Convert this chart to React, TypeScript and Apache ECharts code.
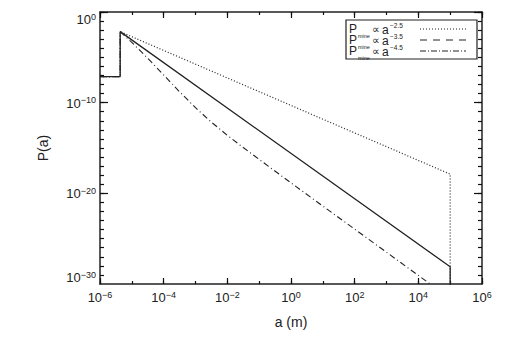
import React, { useEffect, useRef } from 'react';
import * as echarts from 'echarts';

// Size a (m) for the two straight power laws, with the step at a_min and the cut-off at a_max
const aStraight = [1e-6, 4.3e-6, 4.3e-6, 1e5, 1e5];
const pShallow = [7.4e-8, 7.4e-8, 6.8e-3, 1.3e-18, 1e-40];
const pMiddle = [7.4e-8, 7.4e-8, 6.8e-3, 7.9e-29, 1e-40];
// Size a (m) for the curved (dash-dot) law
const aCurved = [1e-6, 4.3e-6, 4.3e-6, 1e-5, 3.16e-5, 1e-4, 3.16e-4, 1e-3, 3.16e-3, 1e-2, 3.16e-2, 1e-1, 1, 1e2, 1e4, 1e5];
const pCurved = [7.4e-8, 7.4e-8, 6.8e-3, 4.47e-4, 7.9e-6, 1.12e-7, 1.58e-9, 2.8e-11, 7.1e-13, 2.5e-14, 1.12e-15, 5.6e-17, 1.41e-19, 1.12e-24, 8.9e-30, 2.5e-32];

const legendExponents = ['−2.5', '−3.5', '−4.5'];
const yMinExponent = '−30';
const xTitle = 'a (m)';
const yTitle = 'P(a)';

const FONT = 'Liberation Sans';
const INK = '#222';
const TICK = '#111';

function expText(v: number): string {
  const e = Math.round(Math.log10(v));
  return e < 0 ? '−' + String(-e) : String(e);
}

const baseRich = {
  b: { fontSize: 13, lineHeight: 14, verticalAlign: 'bottom', fontFamily: FONT, color: INK },
  s: { fontSize: 9, lineHeight: 10, verticalAlign: 'top', padding: [0, 0, 8, 0], fontFamily: FONT, color: INK },
};
const graphicRich = {
  b: { fontSize: 13, lineHeight: 14, verticalAlign: 'bottom', fontFamily: FONT, fill: INK },
  s: { fontSize: 9, lineHeight: 10, verticalAlign: 'top', padding: [0, 0, 8, 0], fontFamily: FONT, fill: INK },
};

function xAxisDef(position: 'top' | 'bottom', interval: number, tickLen: number, main: boolean, labels: boolean): any {
  return {
    type: 'log',
    logBase: 10,
    min: 1e-6,
    max: 1e6,
    interval,
    position,
    name: labels ? xTitle : '',
    nameLocation: 'middle',
    nameGap: 31,
    nameTextStyle: { fontFamily: FONT, fontSize: 14, color: INK },
    axisLine: { show: main, onZero: false, lineStyle: { color: INK, width: 1.5 } },
    axisTick: { show: true, inside: true, length: tickLen, lineStyle: { color: TICK, width: 1.2 } },
    axisLabel: {
      show: labels,
      margin: 6,
      showMinLabel: true,
      showMaxLabel: true,
      hideOverlap: false,
      formatter: (v: number) => `{b|10}{s|${expText(v)}}`,
      rich: baseRich,
    },
    splitLine: { show: false },
  };
}

function yAxisDef(position: 'left' | 'right', interval: number, tickLen: number, main: boolean, labels: boolean): any {
  return {
    type: 'log',
    logBase: 10,
    min: 1e-30,
    max: 1,
    interval,
    position,
    name: labels ? yTitle : '',
    nameLocation: 'middle',
    nameGap: 50,
    nameRotate: 90,
    nameTextStyle: { fontFamily: FONT, fontSize: 14, color: INK },
    axisLine: { show: main, onZero: false, lineStyle: { color: INK, width: 1.5 } },
    axisTick: { show: true, inside: true, length: tickLen, lineStyle: { color: TICK, width: 1.2 } },
    axisLabel: {
      show: labels,
      margin: 4,
      showMinLabel: false,
      showMaxLabel: true,
      hideOverlap: false,
      verticalAlignMaxLabel: 'top',
      formatter: (v: number) => `{b|10}{s|${expText(v)}}`,
      rich: baseRich,
    },
    splitLine: { show: false },
  };
}

function legendGraphics(): any[] {
  const els: any[] = [];
  const boxX = 346, boxY = 20, boxW = 131, boxH = 39;
  els.push({
    type: 'rect',
    shape: { x: boxX, y: boxY, width: boxW, height: boxH },
    style: { fill: '#fff', stroke: INK, lineWidth: 1.2 },
    z: 10,
  });
  const dashes = [[1, 2], [7, 6], [6, 2, 1, 2]];
  const txt = (text: string, x: number, y: number, size: number) => ({
    type: 'text',
    x,
    y,
    z: 11,
    style: {
      text,
      fontFamily: FONT,
      fontSize: size,
      fill: INK,
      align: 'left',
      verticalAlign: 'middle',
      textAlign: 'left',
      textVerticalAlign: 'middle',
    },
  });
  legendExponents.forEach((ex, i) => {
    const cy = 29 + i * 11;
    els.push(txt('P', 349, cy, 12));
    els.push(txt('mine', 358, cy + 7, 5.5));
    els.push(txt('∝', 372, cy, 11));
    els.push(txt('a', 382, cy + 1, 12));
    els.push(txt(ex, 390, cy - 4, 6.5));
    els.push({
      type: 'line',
      z: 11,
      shape: { x1: 420, y1: cy, x2: 466, y2: cy },
      style: { stroke: INK, lineWidth: 1, lineDash: dashes[i] },
    });
  });
  // lowest y tick label (the axis hides it at the grid corner)
  els.push({
    type: 'text',
    x: 96,
    y: 277,
    z: 5,
    style: {
      text: `{b|10}{s|${yMinExponent}}`,
      rich: graphicRich,
      fontFamily: FONT,
      fill: INK,
      align: 'right',
      verticalAlign: 'middle',
      textAlign: 'right',
      textVerticalAlign: 'middle',
    },
  });
  return els;
}

export default function App() {
  const ref = useRef<HTMLDivElement>(null);
  useEffect(() => {
    const chart = echarts.init(ref.current!, null, { renderer: 'svg' });
    const option: any = {
      animation: false,
      backgroundColor: '#fff',
      grid: { left: 100, right: 43, top: 12, bottom: 54, containLabel: false, outerBoundsMode: 'none' },
      xAxis: [
        xAxisDef('bottom', 2, 6, true, true),
        xAxisDef('bottom', 1, 3, false, false),
        xAxisDef('top', 2, 6, true, false),
        xAxisDef('top', 1, 3, false, false),
      ],
      yAxis: [
        yAxisDef('left', 10, 8, true, true),
        yAxisDef('left', 1, 4, false, false),
        yAxisDef('right', 10, 8, true, false),
        yAxisDef('right', 1, 4, false, false),
      ],
      series: [
        {
          type: 'line',
          xAxisIndex: 0,
          yAxisIndex: 0,
          symbol: 'none',
          clip: true,
          data: aStraight.map((a, i) => [a, pMiddle[i]]),
          lineStyle: { color: INK, width: 1.3, type: 'solid' },
        },
        {
          type: 'line',
          xAxisIndex: 0,
          yAxisIndex: 0,
          symbol: 'none',
          clip: true,
          data: aStraight.map((a, i) => [a, pShallow[i]]),
          lineStyle: { color: INK, width: 1.2, type: [1, 2] },
        },
        {
          type: 'line',
          xAxisIndex: 0,
          yAxisIndex: 0,
          symbol: 'none',
          clip: true,
          data: aCurved.map((a, i) => [a, pCurved[i]]),
          lineStyle: { color: INK, width: 1.1, type: [6, 3, 1, 3] },
        },
      ],
      graphic: legendGraphics(),
    };
    chart.setOption(option);
    return () => chart.dispose();
  }, []);
  return (
    <div
      ref={ref}
      style={{ position: 'absolute', left: 0, top: 0, width: 525, height: 338, background: '#fff' }}
    />
  );
}
